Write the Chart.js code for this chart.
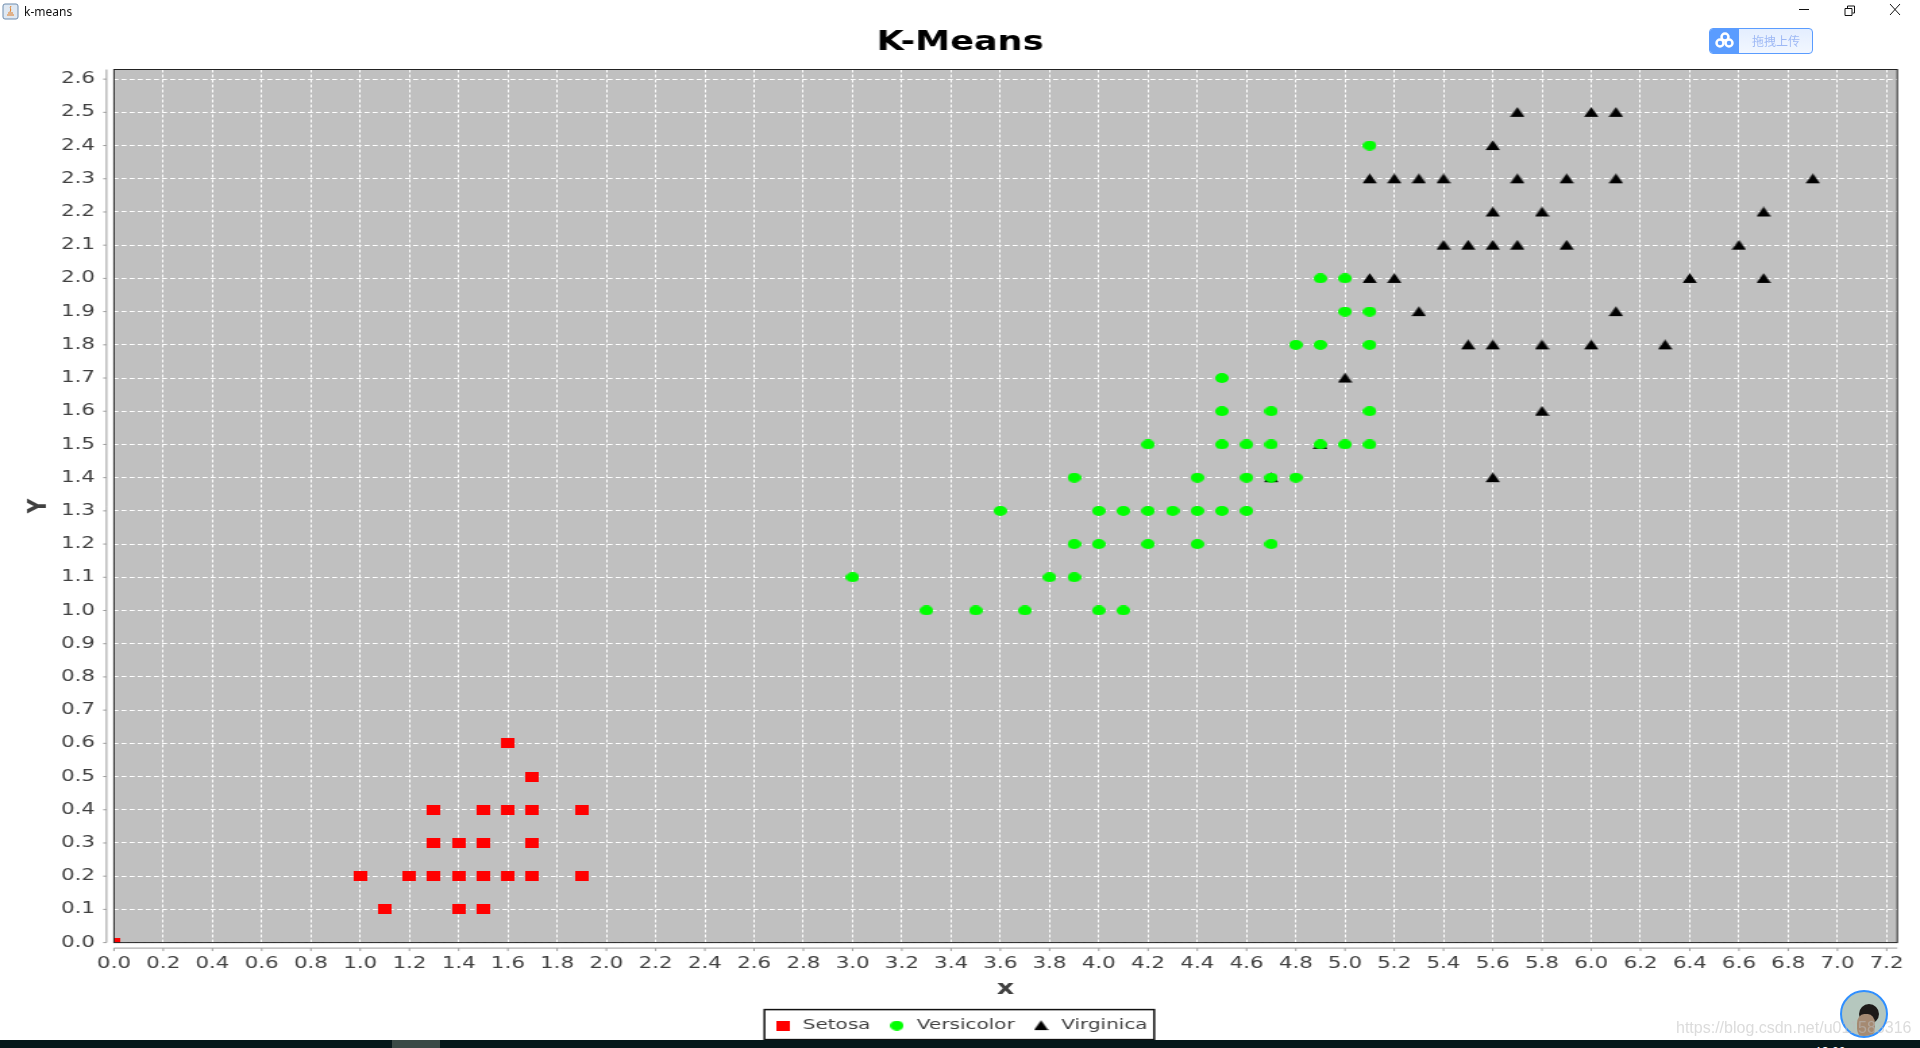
<!DOCTYPE html>
<html lang="zh">
<head>
<meta charset="UTF-8">
<title>k-means</title>
<script src="https://cdn.jsdelivr.net/npm/chart.js"></script>
<style>
    html, body { margin: 0; padding: 0; background: #fff; overflow: hidden; }
    body { width: 1920px; height: 1048px; position: relative; }
    /* the source is a java window dragged wider than its chart, so the whole chart is stretched */
    #wrap { position: absolute; left: 0; top: 0; transform-origin: 0 0; transform: scaleX(1.3502); }
    #wrap canvas { display: block; }
    .abs { position: absolute; }
    #appname { left: 24px; top: 3px; font: 12px "Noto Sans", sans-serif; color: #111; }
    #taskbar { left: 0; top: 1040px; width: 1920px; height: 8px; background: #06181a; overflow: hidden; }
    #tab { left: 392px; top: 0; width: 48px; height: 8px; background: #3a4a46; }
    #clock { left: 1815px; top: 3px; font: 12px "Noto Sans", sans-serif; color: #fff; }
    #upload { left: 1709px; top: 28px; width: 102px; height: 24px; border: 1px solid #5a9cff; border-radius: 4px;
              background: linear-gradient(#e4eeff, #f2f7ff); overflow: hidden; }
    #upload .ico { position: absolute; left: 0; top: 0; width: 29px; height: 24px; background: #5a9cff; }
    #upload .txt { position: absolute; left: 42px; top: 3px; font: 12px "Noto Sans CJK SC", sans-serif; color: #9db8f5; }
    #avatar { left: 1840px; top: 990px; width: 44px; height: 44px; border: 2px solid #2f8fff; border-radius: 50%;
              background: #b5c7be; overflow: hidden; }
    #avatar i { position: absolute; left: 17px; top: 12px; width: 20px; height: 20px; border-radius: 50%; background: #1d1a18; }
    #avatar b { position: absolute; left: 15px; top: 22px; width: 18px; height: 24px; border-radius: 40%; background: #a58a72; }
    #watermark { left: 1676px; top: 1019px; font: 16px "Liberation Sans", sans-serif; color: rgba(190,190,190,.55); white-space: nowrap; }
</style>
</head>
<body>
<div id="wrap"><canvas id="chart" width="1422" height="1043"></canvas></div>

<svg class="abs" style="left:2px;top:3px" width="18" height="17">
    <rect x="1" y="1" width="15" height="15" rx="2" fill="#dfe8f2" stroke="#6d8bad"/>
    <path d="M5 12h7M6 10h5M9 3c-2 2 1 3-1 6" stroke="#e07b20" fill="none"/>
</svg>
<div class="abs" id="appname">k-means</div>
<svg class="abs" style="left:1795px;top:1px" width="110" height="20" fill="none" stroke="#111">
    <path d="M4 8.5h10"/>
    <path d="M50 7.5h7v7h-7zM52.500 7V5h7v7h-2"/>
    <path d="M95 3l10 11M105 3l-10 11"/>
</svg>
<div class="abs" id="upload">
    <div class="ico">
        <svg width="29" height="24" fill="none" stroke="#fff" stroke-width="2.500">
            <circle cx="15" cy="8" r="3.500"/><circle cx="10" cy="14" r="3.500"/><circle cx="19" cy="14" r="3.500"/>
        </svg>
    </div>
    <div class="txt">拖拽上传</div>
</div>
<div class="abs" id="avatar"><i></i><b></b></div>
<div class="abs" id="watermark">https://blog.csdn.net/u011583316</div>
<div class="abs" id="taskbar"><div class="abs" id="tab"></div><div class="abs" id="clock">18:00</div></div>

<script>
    const xTicksMax = 7.243;
    const yTicksMax = 2.629;

    const setosaX = [0, 1.6, 1.7, 1.3, 1.5, 1.6, 1.7, 1.9, 1.3, 1.4, 1.5, 1.7, 1.0, 1.2, 1.3, 1.4, 1.5, 1.6, 1.7, 1.9, 1.1, 1.4, 1.5];
    const setosaY = [0, 0.6, 0.5, 0.4, 0.4, 0.4, 0.4, 0.4, 0.3, 0.3, 0.3, 0.3, 0.2, 0.2, 0.2, 0.2, 0.2, 0.2, 0.2, 0.2, 0.1, 0.1, 0.1];

    const versicolorX = [5.1, 4.9, 5.0, 5.0, 5.1, 4.8, 4.9, 5.1, 4.5, 4.5, 4.7, 5.1, 4.2, 4.5, 4.6, 4.7, 4.9, 5.0, 5.1,
        3.9, 4.4, 4.6, 4.7, 4.8, 3.6, 4.0, 4.1, 4.2, 4.3, 4.4, 4.5, 4.6, 3.9, 4.0, 4.2, 4.4, 4.7, 3.0, 3.8, 3.9, 3.3, 3.5, 3.7, 4.0, 4.1];
    const versicolorY = [2.4, 2.0, 2.0, 1.9, 1.9, 1.8, 1.8, 1.8, 1.7, 1.6, 1.6, 1.6, 1.5, 1.5, 1.5, 1.5, 1.5, 1.5, 1.5,
        1.4, 1.4, 1.4, 1.4, 1.4, 1.3, 1.3, 1.3, 1.3, 1.3, 1.3, 1.3, 1.3, 1.2, 1.2, 1.2, 1.2, 1.2, 1.1, 1.1, 1.1, 1.0, 1.0, 1.0, 1.0, 1.0];

    const virginicaX = [5.7, 6.0, 6.1, 5.6, 5.1, 5.2, 5.3, 5.4, 5.7, 5.9, 6.1, 6.9, 5.6, 5.8, 6.7, 5.4, 5.5, 5.6, 5.7, 5.9, 6.6,
        5.1, 5.2, 6.4, 6.7, 5.3, 6.1, 5.5, 5.6, 5.8, 6.0, 6.3, 5.0, 5.8, 4.9, 4.7, 5.6];
    const virginicaY = [2.5, 2.5, 2.5, 2.4, 2.3, 2.3, 2.3, 2.3, 2.3, 2.3, 2.3, 2.3, 2.2, 2.2, 2.2, 2.1, 2.1, 2.1, 2.1, 2.1, 2.1,
        2.0, 2.0, 2.0, 2.0, 1.9, 1.9, 1.8, 1.8, 1.8, 1.8, 1.8, 1.7, 1.6, 1.5, 1.4, 1.4];

    const textColor = '#404040';
    const axisColor = '#9a9a9a';

    function toPoints(xs, ys) {
        return xs.map((x, i) => ({ x: x, y: ys[i] }));
    }

    // same little shapes in plot and legend
    function marker(size, color, draw) {
        const c = document.createElement('canvas');
        c.width = size;
        c.height = size;
        const g = c.getContext('2d');
        g.fillStyle = color;
        g.beginPath();
        draw(g);
        g.fill();
        return c;
    }
    const squareMark = marker(10, '#ff0000', g => g.rect(0, 0, 10, 10));
    const circleMark = marker(10, '#00ff00', g => g.arc(5, 5, 5, 0, Math.PI * 2));
    const triangleMark = marker(11, '#000000', g => { g.moveTo(5.5, 0.2); g.lineTo(10.8, 10); g.lineTo(0.2, 10); g.closePath(); });

    // gray plot, frame, and the java style axis lines that sit a bit away from the plot
    const plotFrame = {
        id: 'plotFrame',
        beforeDraw(chart) {
            const a = chart.chartArea;
            const ctx = chart.ctx;
            ctx.save();
            ctx.fillStyle = '#c0c0c0';
            ctx.fillRect(a.left, a.top, a.right - a.left, a.bottom - a.top);
            ctx.restore();
        },
        afterDraw(chart) {
            const a = chart.chartArea;
            const ctx = chart.ctx;
            ctx.save();
            ctx.strokeStyle = '#222';
            ctx.lineWidth = 1;
            ctx.strokeRect(a.left, a.top, a.right - a.left, a.bottom - a.top);

            ctx.strokeStyle = axisColor;
            const ax = a.left - 5.5;
            const ay = a.bottom + 5.5;
            ctx.beginPath();
            ctx.moveTo(ax, a.top);
            ctx.lineTo(ax, a.bottom);
            ctx.moveTo(a.left, ay);
            ctx.lineTo(a.right, ay);
            chart.scales.y.ticks.forEach(t => {
                const p = chart.scales.y.getPixelForValue(t.value);
                ctx.moveTo(ax - 2.5, p);
                ctx.lineTo(ax, p);
            });
            chart.scales.x.ticks.forEach(t => {
                const p = chart.scales.x.getPixelForValue(t.value);
                ctx.moveTo(p, ay);
                ctx.lineTo(p, ay + 3);
            });
            ctx.stroke();

            // box round the legend
            const boxes = chart.legend.legendHitBoxes;
            const last = boxes[boxes.length - 1];
            const lx = boxes[0].left - 6;
            const rx = last.left + last.width + 5;
            const my = chart.legend.top + chart.legend.height / 2;
            ctx.strokeStyle = '#111';
            ctx.lineWidth = 1.500;
            ctx.strokeRect(lx, my - 15, rx - lx, 30);
            ctx.restore();
        }
    };

    new Chart(document.getElementById('chart'), {
        type: 'scatter',
        data: {
            datasets: [
                { label: 'Setosa', data: toPoints(setosaX, setosaY), pointStyle: squareMark, pointRadius: 5, clip: 0 },
                { label: 'Versicolor', data: toPoints(versicolorX, versicolorY), pointStyle: circleMark, pointRadius: 5, clip: 0 },
                { label: 'Virginica', data: toPoints(virginicaX, virginicaY), pointStyle: triangleMark, pointRadius: 5, clip: 0 }
            ]
        },
        plugins: [plotFrame],
        options: {
            responsive: false,
            animation: false,
            layout: { autoPadding: false, padding: { left: 16.5, right: 16.5, top: 0, bottom: 0 } },
            plugins: {
                tooltip: { enabled: false },
                title: {
                    display: true,
                    text: 'K-Means',
                    color: '#000',
                    font: { family: 'DejaVu Sans', size: 26, weight: 'bold' },
                    padding: { top: 28, bottom: 10.3 }
                },
                legend: {
                    position: 'bottom',
                    labels: {
                        usePointStyle: true,
                        pointStyleWidth: 15,
                        boxHeight: 10,
                        padding: 12,
                        color: textColor,
                        font: { family: 'DejaVu Sans', size: 14.800 }
                    }
                }
            },
            scales: {
                x: {
                    type: 'linear',
                    min: 0,
                    max: xTicksMax,
                    title: { display: true, text: 'x', color: textColor, padding: { top: 8, bottom: 5 }, font: { family: 'DejaVu Sans', size: 20, weight: 'bold' } },
                    grid: { color: '#fff', drawTicks: false },
                    border: { display: false, dash: [3, 2] },
                    ticks: {
                        stepSize: 0.2, includeBounds: false, autoSkip: false, maxRotation: 0, padding: 12, color: textColor,
                        font: { family: 'DejaVu Sans', size: 15.800 },
                        callback: v => v.toFixed(1)
                    },
                    afterFit(s) { s.height = 63.6; }
                },
                y: {
                    type: 'linear',
                    min: 0,
                    max: yTicksMax,
                    title: { display: true, text: 'Y', color: textColor, padding: 0, font: { family: 'DejaVu Sans', size: 20, weight: 'bold' } },
                    grid: { color: '#fff', drawTicks: false },
                    border: { display: false, dash: [3.7, 2.3] },
                    ticks: {
                        stepSize: 0.1, includeBounds: false, autoSkip: false, padding: 14, color: textColor,
                        font: { family: 'DejaVu Sans', size: 15.800 },
                        callback: v => v.toFixed(1)
                    },
                    afterFit(s) { s.width = 67.9; }
                }
            }
        }
    });
</script>
</body>
</html>
